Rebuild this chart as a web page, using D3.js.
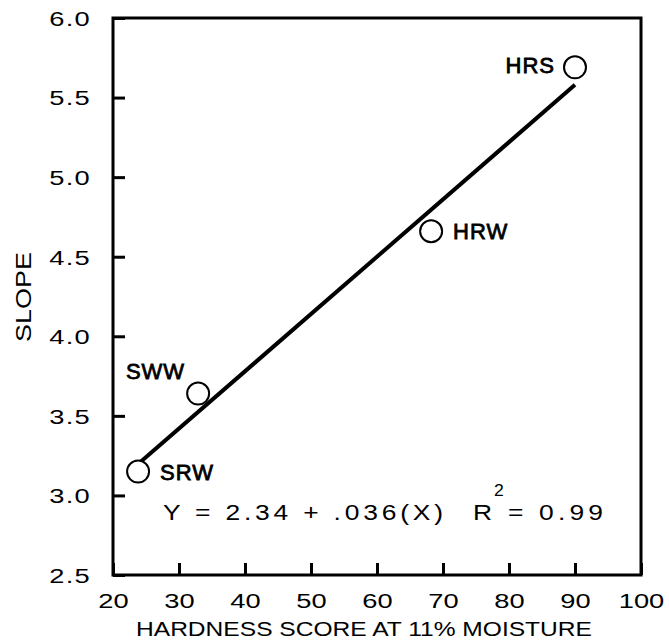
<!DOCTYPE html>
<html>
<head>
<meta charset="utf-8">
<script src="https://cdn.jsdelivr.net/npm/d3@7"></script>
<style>
  body { margin: 0; background: #fff; }
  svg { display: block; font-family: "Liberation Sans", Arial, Helvetica, sans-serif; }
</style>
</head>
<body>
<svg id="chart" width="669" height="641"></svg>
<script>
// wheat classes
const classes = ["SRW", "SWW", "HRW", "HRS"];
const hardness = [23.8, 32.9, 68.2, 90.0];
const slope = [3.15, 3.64, 4.66, 5.69];

const xTicks = [20, 30, 40, 50, 60, 70, 80, 90, 100];
const yTicks = [2.5, 3.0, 3.5, 4.0, 4.5, 5.0, 5.5, 6.0];

const intercept = 2.34, coef = 0.036;
const equationText = "Y = 2.34 + .036(X)";
const r2Text = "= 0.99";

const svg = d3.select("#chart");
const margin = { top: 18, right: 28, bottom: 66, left: 113 };
const width = 669, height = 641;

const x = d3.scaleLinear().domain([20, 100]).range([margin.left, width - margin.right]);
const y = d3.scaleLinear().domain([2.5, 6.0]).range([height - margin.bottom, margin.top]);

// label placement around each circle
const labelPos = {
    SRW: { dx: 22, dy: 8, anchor: "start" },
    SWW: { dx: -13, dy: -15, anchor: "end" },
    HRW: { dx: 22, dy: 8, anchor: "start" },
    HRS: { dx: -20, dy: 6, anchor: "end" }
};

// y axis ticks (inward)
const yAxis = svg.append("g")
    .attr("transform", `translate(${x(20)},0)`)
    .call(d3.axisLeft(y).tickValues(yTicks).tickSize(-12).tickPadding(0).tickFormat(d3.format(".1f")));
yAxis.select(".domain").remove();
yAxis.selectAll(".tick line").attr("stroke", "#000").attr("stroke-width", 3);
yAxis.selectAll(".tick text")
    .attr("x", null).attr("dy", null)
    .attr("text-anchor", "end")
    .attr("dominant-baseline", "central")
    .attr("font-size", 21)
    .attr("fill", "#000")
    .attr("letter-spacing", 1)
    .attr("transform", "translate(-22,0) scale(1.3,1)");

// x axis ticks (inward)
const xAxis = svg.append("g")
    .attr("transform", `translate(0,${y(2.5)})`)
    .call(d3.axisBottom(x).tickValues(xTicks).tickSize(-12).tickPadding(0).tickFormat(d3.format("d")));
xAxis.select(".domain").remove();
xAxis.selectAll(".tick line").attr("stroke", "#000").attr("stroke-width", 3);
xAxis.selectAll(".tick text")
    .attr("y", null).attr("dy", null)
    .attr("text-anchor", "middle")
    .attr("font-size", 21)
    .attr("fill", "#000")
    .attr("transform", "translate(0,33) scale(1.3,1)");

// frame
svg.append("rect")
    .attr("x", x(20)).attr("y", y(6.0))
    .attr("width", x(100) - x(20)).attr("height", y(2.5) - y(6.0))
    .attr("fill", "none").attr("stroke", "#000").attr("stroke-width", 3);

// regression line
const x0 = d3.min(hardness), x1 = d3.max(hardness);
svg.append("line")
    .attr("x1", x(x0)).attr("y1", y(intercept + coef * x0))
    .attr("x2", x(x1)).attr("y2", y(intercept + coef * x1))
    .attr("stroke", "#000").attr("stroke-width", 4);

const points = classes.map((c, i) => ({ name: c, x: hardness[i], y: slope[i] }));

svg.selectAll(".pt")
    .data(points)
    .join("circle")
    .attr("class", "pt")
    .attr("cx", d => x(d.x)).attr("cy", d => y(d.y))
    .attr("r", 11)
    .attr("fill", "#fff").attr("stroke", "#000").attr("stroke-width", 2);

svg.selectAll(".ptlabel")
    .data(points)
    .join("text")
    .attr("class", "ptlabel")
    .attr("x", d => x(d.x) + labelPos[d.name].dx)
    .attr("y", d => y(d.y) + labelPos[d.name].dy)
    .attr("text-anchor", d => labelPos[d.name].anchor)
    .attr("font-size", 22)
    .attr("stroke", "#000").attr("stroke-width", 0.8)
    .attr("letter-spacing", 1)
    .text(d => d.name);

// equation (wide glyphs + wide spacing)
const sx = 1.2;
svg.append("text")
    .attr("transform", `translate(163,520) scale(${sx},1)`)
    .attr("font-size", 22)
    .attr("textLength", 280 / sx).attr("lengthAdjust", "spacing")
    .text(equationText);
svg.append("text")
    .attr("transform", `translate(473,520) scale(${sx},1)`)
    .attr("font-size", 22)
    .text("R");
svg.append("text")
    .attr("transform", "translate(494,496) scale(1.1,1)")
    .attr("font-size", 16)
    .text("2");
svg.append("text")
    .attr("transform", `translate(508,520) scale(${sx},1)`)
    .attr("font-size", 22)
    .attr("textLength", 95 / sx).attr("lengthAdjust", "spacing")
    .text(r2Text);

// axis titles
svg.append("text")
    .attr("x", 136).attr("y", 636)
    .attr("font-size", 21)
    .attr("textLength", 456).attr("lengthAdjust", "spacingAndGlyphs")
    .text("HARDNESS SCORE AT 11% MOISTURE");

svg.append("text")
    .attr("transform", "translate(31,342) rotate(-90)")
    .attr("font-size", 22)
    .attr("textLength", 90).attr("lengthAdjust", "spacingAndGlyphs")
    .text("SLOPE");
</script>
</body>
</html>
